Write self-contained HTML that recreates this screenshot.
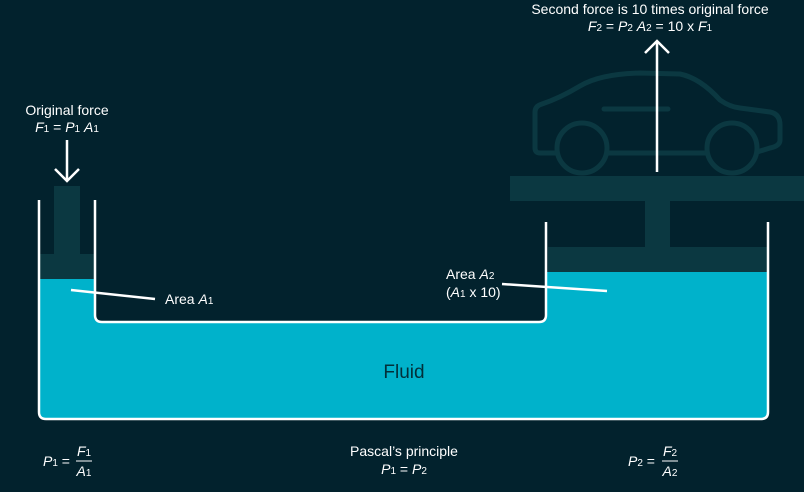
<!DOCTYPE html>
<html><head><meta charset="utf-8"><style>
html,body{margin:0;padding:0;background:#02222d;}
svg{display:block}
text{font-family:"Liberation Sans",sans-serif;fill:#fff;}
</style></head><body>
<svg width="804" height="492" viewBox="0 0 804 492" xmlns="http://www.w3.org/2000/svg">
<rect width="804" height="492" fill="#02222d"/>
<g fill="none" stroke="#0b3841" stroke-width="5" stroke-linejoin="round" stroke-linecap="round">
<path d="M557,153 L540,153 Q535,153 535,148 L535,112 Q535,106 542,104 Q560,98 580,86 Q600,74 640,73 L680,74 Q700,78 720,100 Q730,107 740,108 L770,112 Q780,114 780,125 L780,140 Q780,146 770,148 L757,152"/>
<line x1="607" y1="153" x2="707" y2="153"/>
<circle cx="582" cy="148" r="25"/>
<circle cx="732" cy="148" r="25"/>
<line x1="604" y1="109" x2="668" y2="109"/>
</g>
<rect x="510" y="176" width="294" height="25" fill="#0b3841"/>
<rect x="645" y="200" width="25" height="48" fill="#0b3841"/>
<rect x="548" y="247" width="219" height="25" fill="#0b3841"/>
<rect x="54" y="186" width="26" height="70" fill="#0b3841"/>
<rect x="40" y="254" width="54" height="25" fill="#0b3841"/>
<path d="M40,279 L94,279 L94,316 Q94,322 100,322 L541,322 Q547,322 547,316 L547,272 L767,272 L767,412 Q767,418 761,418 L46,418 Q40,418 40,412 Z" fill="#00b2cb"/>
<path d="M39,200 L39,412 Q39,419 46,419 L761,419 Q768,419 768,412 L768,222" fill="none" stroke="#fff" stroke-width="2.5"/>
<path d="M95,200 L95,315 Q95,322 102,322 L539,322 Q546,322 546,315 L546,222" fill="none" stroke="#fff" stroke-width="2.5"/>
<line x1="71" y1="290" x2="155" y2="299" stroke="#fff" stroke-width="2.5"/>
<line x1="502" y1="284" x2="607" y2="291" stroke="#fff" stroke-width="2.5"/>
<g stroke="#fff" stroke-width="2.5" fill="none">
<line x1="67" y1="140" x2="67" y2="181"/>
<polyline points="55,169 67,181 79,169"/>
<line x1="657" y1="172" x2="657" y2="42"/>
<polyline points="645,53 657,41 669,53"/>
</g>
<text x="67" y="115" font-size="14" text-anchor="middle">Original force</text>
<text x="67" y="132" font-size="14" text-anchor="middle"><tspan font-style="italic">F</tspan><tspan font-size="10">1</tspan> = <tspan font-style="italic">P</tspan><tspan font-size="10">1</tspan> <tspan font-style="italic">A</tspan><tspan font-size="10">1</tspan></text>
<text x="650" y="14" font-size="14" text-anchor="middle">Second force is 10 times original force</text>
<text x="650" y="31" font-size="14" text-anchor="middle"><tspan font-style="italic">F</tspan><tspan font-size="10">2</tspan> = <tspan font-style="italic">P</tspan><tspan font-size="10">2</tspan> <tspan font-style="italic">A</tspan><tspan font-size="10">2</tspan> = 10 x <tspan font-style="italic">F</tspan><tspan font-size="10">1</tspan></text>
<text x="165" y="304" font-size="14">Area <tspan font-style="italic">A</tspan><tspan font-size="10">1</tspan></text>
<text x="446" y="279" font-size="14">Area <tspan font-style="italic">A</tspan><tspan font-size="10">2</tspan></text>
<text x="446" y="297" font-size="14">(<tspan font-style="italic">A</tspan><tspan font-size="10">1</tspan> x 10)</text>
<text x="404" y="378" font-size="19" text-anchor="middle" style="fill:#02303a">Fluid</text>
<text x="43" y="466" font-size="14"><tspan font-style="italic">P</tspan><tspan font-size="10">1</tspan> =</text>
<text x="84" y="456" font-size="14" text-anchor="middle"><tspan font-style="italic">F</tspan><tspan font-size="10">1</tspan></text>
<line x1="76" y1="461" x2="92" y2="461" stroke="#fff" stroke-width="1"/>
<text x="84" y="476" font-size="14" text-anchor="middle"><tspan font-style="italic">A</tspan><tspan font-size="10">1</tspan></text>
<text x="404" y="456" font-size="14" text-anchor="middle">Pascal’s principle</text>
<text x="404" y="474" font-size="14" text-anchor="middle"><tspan font-style="italic">P</tspan><tspan font-size="10">1</tspan> = <tspan font-style="italic">P</tspan><tspan font-size="10">2</tspan></text>
<text x="628" y="466" font-size="14"><tspan font-style="italic">P</tspan><tspan font-size="10">2</tspan> =</text>
<text x="670" y="456" font-size="14" text-anchor="middle"><tspan font-style="italic">F</tspan><tspan font-size="10">2</tspan></text>
<line x1="662" y1="461" x2="678" y2="461" stroke="#fff" stroke-width="1"/>
<text x="670" y="476" font-size="14" text-anchor="middle"><tspan font-style="italic">A</tspan><tspan font-size="10">2</tspan></text>
</svg>
</body></html>
